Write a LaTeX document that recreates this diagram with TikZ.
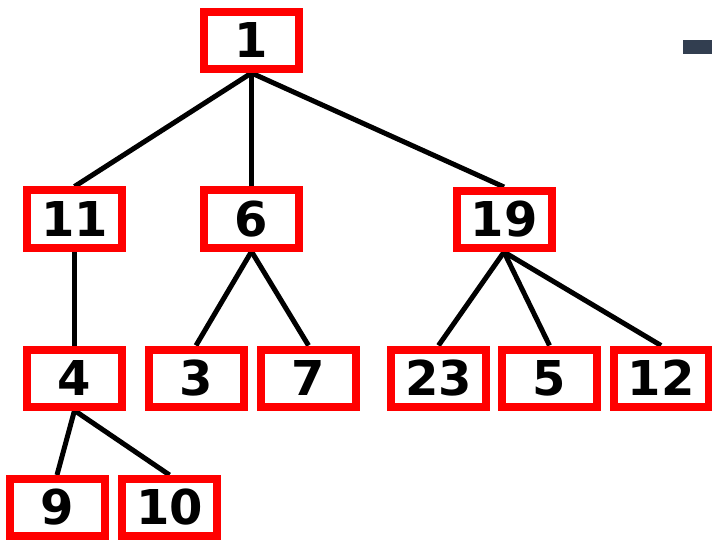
\documentclass[tikz,border=0pt]{standalone}
\usepackage{fontspec}
\setmainfont{DejaVu Sans}
\usetikzlibrary{backgrounds}
\definecolor{boxred}{RGB}{255,0,0}
\definecolor{slate}{RGB}{50,62,80}
\begin{document}
\begin{tikzpicture}[x=1pt,y=-1pt,
  numbox/.style={draw=boxred, line width=8pt, fill=white, minimum width=95pt, minimum height=57pt, inner sep=0pt,
    font=\fontsize{48}{48}\selectfont\bfseries, text=black},
  edge/.style={draw=black, line width=5pt}]
\useasboundingbox (0,0) rectangle (712,540);
\node[numbox] (n1) at (251.5,40.5) {1};
\node[numbox] (n11) at (74.5,219) {11};
\node[numbox] (n6) at (251.5,219) {6};
\node[numbox] (n19) at (504,219.5) {19};
\node[numbox] (n4) at (74.5,378) {4};
\node[numbox] (n3) at (196,378) {3};
\node[numbox] (n7) at (308.5,378) {7};
\node[numbox] (n23) at (438.5,378) {23};
\node[numbox] (n5) at (549.5,378) {5};
\node[numbox] (n12) at (661,378) {12};
\node[numbox] (n9) at (57,507.5) {9};
\node[numbox] (n10) at (169.5,507.5) {10};
\fill[slate] (683,40) rectangle (712,54);
\begin{scope}[on background layer]
\draw[edge] (n1.south) -- (n11.north);
\draw[edge] (n1.south) -- (n6.north);
\draw[edge] (n1.south) -- (n19.north);
\draw[edge] (n11.south) -- (n4.north);
\draw[edge] (n6.south) -- (n3.north);
\draw[edge] (n6.south) -- (n7.north);
\draw[edge] (n19.south) -- (n23.north);
\draw[edge] (n19.south) -- (n5.north);
\draw[edge] (n19.south) -- (n12.north);
\draw[edge] (n4.south) -- (n9.north);
\draw[edge] (n4.south) -- (n10.north);
\end{scope}
\end{tikzpicture}
\end{document}
